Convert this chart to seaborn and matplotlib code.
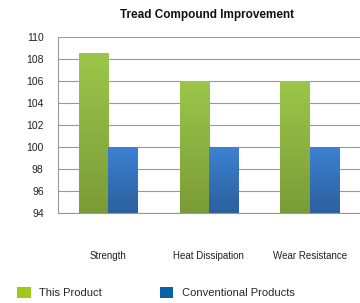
import matplotlib
matplotlib.use("Agg")
import matplotlib.pyplot as plt
import seaborn as sns
import pandas as pd
import numpy as np
from matplotlib.patches import Patch
from matplotlib.colors import LinearSegmentedColormap

categories = ["Strength", "Heat Dissipation", "Wear Resistance"]
this_product = [108.5, 106, 106]
conventional = [100, 100, 100]
series_names = ["This Product", "Conventional Products"]
yticks = [94, 96, 98, 100, 102, 104, 106, 108, 110]

df = pd.DataFrame({
    "category": categories * 2,
    "value": this_product + conventional,
    "series": [series_names[0]] * 3 + [series_names[1]] * 3,
})

sns.set_style("white")
plt.rcParams['font.family'] = ['Liberation Sans', 'DejaVu Sans']

fig = plt.figure(figsize=(3.6, 3.03), dpi=100)
ax = fig.add_axes([0.16, 0.297, 0.84, 0.581])

bar_colors = ["#8cb840", "#3676c4"]
sns.barplot(data=df, x="category", y="value", hue="series", palette=bar_colors,
            width=0.58, ax=ax, legend=False, saturation=1, gap=0)

ax.set_ylim(94, 110)
ax.set_xlim(-0.5, 2.5)

# vertical gradient fill on each bar
grad_maps = {
    0: LinearSegmentedColormap.from_list("g", ["#7a9c38", "#9cc64a"]),
    1: LinearSegmentedColormap.from_list("b", ["#2c5f9e", "#3d82d2"]),
}
patches = list(ax.patches)
for i, p in enumerate(patches):
    s = 0 if i < 3 else 1
    x0, y0 = p.get_x(), p.get_y()
    w, h = p.get_width(), p.get_height()
    p.set_edgecolor("none")
    p.set_facecolor("none")
    y_bot = max(y0, 94)
    y_top = y0 + h
    grad = np.linspace(0, 1, 100).reshape(-1, 1)
    im = ax.imshow(grad, cmap=grad_maps[s], aspect="auto", origin="lower",
                   extent=[x0, x0 + w, y_bot, y_top], zorder=2)
    im.set_clip_path(p)

ax.set_xlim(-0.5, 2.5)
ax.set_ylim(94, 110)
ax.set_yticks(yticks)
ax.set_yticklabels([str(t) for t in yticks], fontsize=7.5, color="#222222")
ax.tick_params(axis="x", labelsize=7, colors="#222222", length=0, pad=27)
ax.tick_params(axis="y", length=3, color="#999999", pad=7)
ax.set_xlabel("")
ax.set_ylabel("")
ax.yaxis.grid(True, color="#999999", linewidth=0.8)
ax.set_axisbelow(True)
for s in ["top", "right"]:
    ax.spines[s].set_visible(False)
for s in ["left", "bottom"]:
    ax.spines[s].set_color("#999999")
    ax.spines[s].set_linewidth(0.8)

fig.text(0.575, 0.952, "Tread Compound Improvement", ha="center", va="center",
         fontsize=8.5, fontweight="bold", color="#111111")

handles = [Patch(facecolor="#a2c81e", edgecolor="none"),
           Patch(facecolor="#0a62a8", edgecolor="none")]
fig.legend(handles, series_names, loc="center left", bbox_to_anchor=(0.02, 0.035),
           ncol=2, frameon=False, fontsize=8, handlelength=1.2, handleheight=1.2,
           columnspacing=5.2, handletextpad=0.8)

fig.savefig("out.png", dpi=100)
